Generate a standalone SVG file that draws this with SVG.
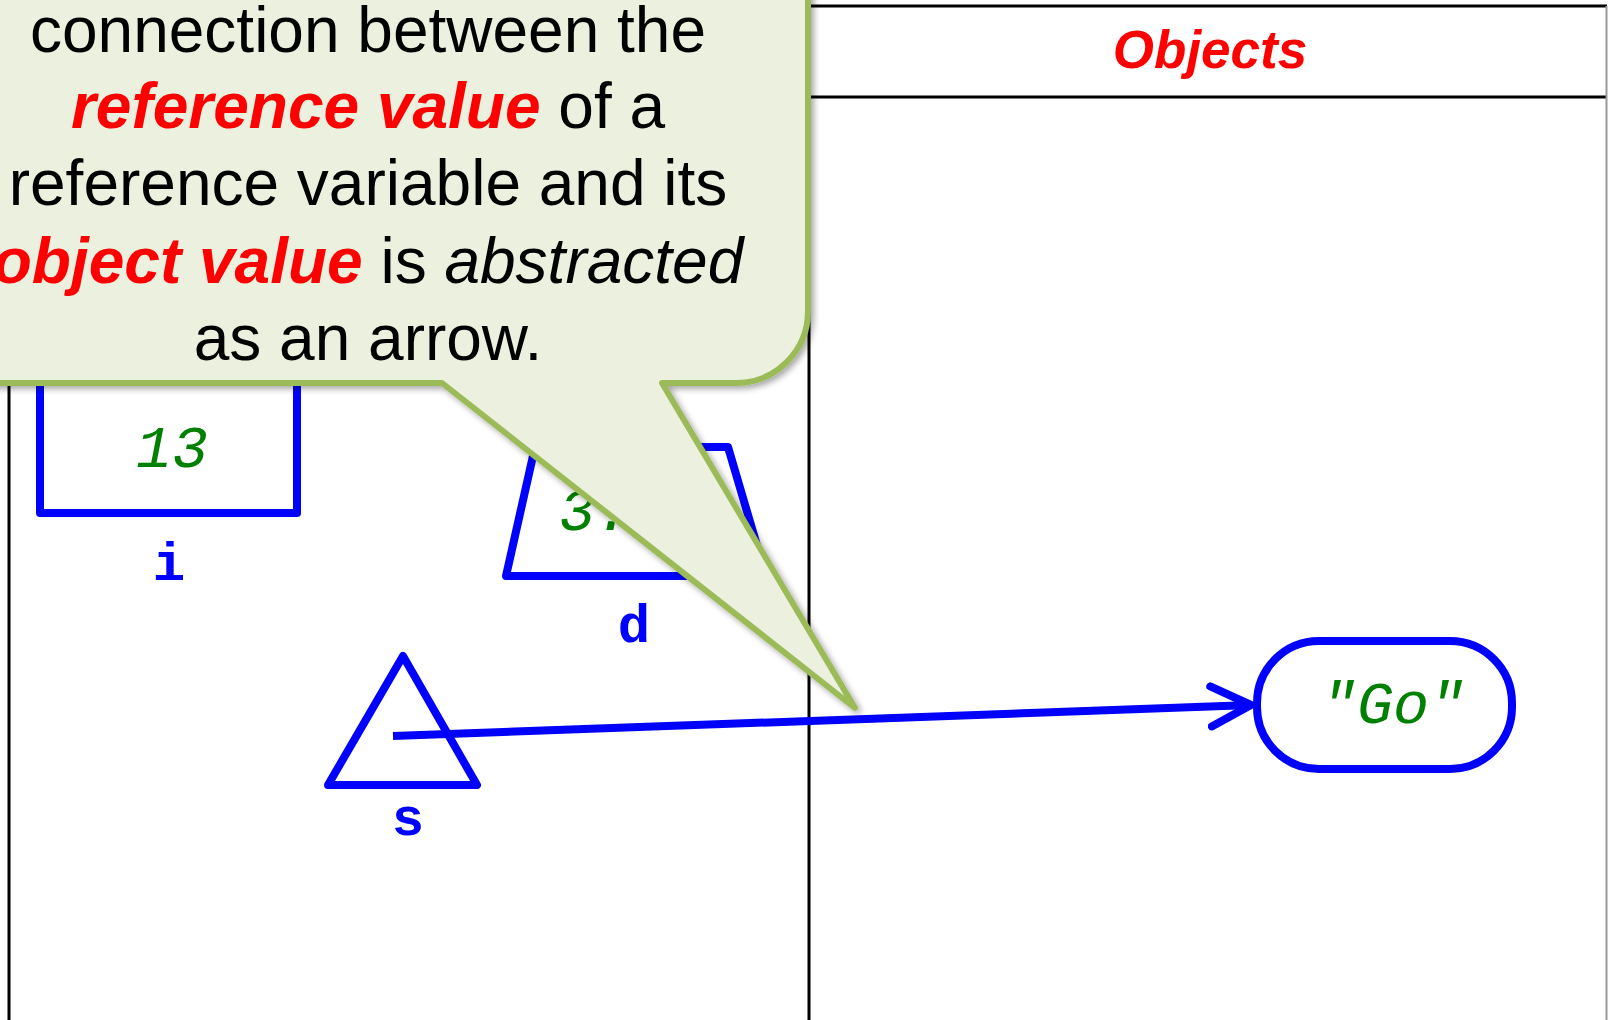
<svg xmlns="http://www.w3.org/2000/svg" width="1608" height="1020" viewBox="0 0 1608 1020">
  <style>
    .frame { fill: none; stroke: #000; stroke-width: 3; }
    .shape { fill: none; stroke: #0000FF; stroke-width: 8; stroke-linejoin: round; }
    .val { font-family: "Liberation Mono", "Courier New", monospace; font-style: italic; fill: #008000; font-size: 60px; }
    .lbl { font-family: "Liberation Mono", "Courier New", monospace; font-weight: bold; fill: #0000FF; font-size: 54px; text-anchor: middle; }
    .note { font-family: "Liberation Sans", Arial, sans-serif; font-size: 64px; fill: #000; text-anchor: middle; }
    .hl { fill: #FF0000; font-weight: bold; font-style: italic; }
    .head { font-family: "Liberation Sans", Arial, sans-serif; font-size: 53px; font-weight: bold; font-style: italic; fill: #FF0000; text-anchor: middle; }
  </style>
  <defs>
    <filter id="shadow" x="-10%" y="-10%" width="130%" height="130%">
      <feDropShadow dx="3" dy="3" stdDeviation="3" flood-color="#000" flood-opacity="0.35"/>
    </filter>
    <marker id="openArrow" markerUnits="userSpaceOnUse" markerWidth="60" markerHeight="60" refX="44" refY="24" orient="auto">
      <path d="M4,4 L44,24 L4,44" fill="none" stroke="#0000FF" stroke-width="8" stroke-linecap="round" stroke-linejoin="round"/>
    </marker>
  </defs>
  <rect width="1608" height="1020" fill="#FFFFFF"/>

  <g id="panels">
    <line class="frame" x1="9" y1="6" x2="9" y2="1020"/>
    <line class="frame" x1="809" y1="6" x2="809" y2="1020"/>
    <line class="frame" x1="9" y1="6" x2="1607" y2="6"/>
    <line class="frame" x1="809" y1="97" x2="1607" y2="97"/>
    <line x1="1606.5" y1="6" x2="1606.5" y2="1020" stroke="#999" stroke-width="2"/>
    <text class="head" x="1210" y="68">Objects</text>
  </g>

  <g id="var-i">
    <rect class="shape" x="40" y="330" width="257" height="183"/>
    <text class="val" x="172" y="467" text-anchor="middle">13</text>
    <text class="lbl" x="169" y="580">i</text>
  </g>

  <g id="var-d">
    <polygon class="shape" points="535,447 728,447 766,576 506,576"/>
    <text class="val" x="559" y="530">3.</text>
    <text class="lbl" x="634" y="642">d</text>
  </g>

  <g id="var-s">
    <polygon class="shape" points="403,656 477,785 328,785"/>
    <text class="lbl" x="408" y="835">s</text>
  </g>

  <g id="obj-go">
    <rect class="shape" x="1257" y="641" width="255" height="128" rx="62" ry="62"/>
    <text class="val" x="1393" y="723" text-anchor="middle">"Go"</text>
  </g>

  <g id="connectors">
    <line x1="393" y1="736" x2="1251" y2="705" stroke="#0000FF" stroke-width="8" marker-end="url(#openArrow)"/>
  </g>

  <g id="callout">
    <path d="M -20,-20 H 808 V 311 A 72 72 0 0 1 736,383 H 662 L 855,708 L 442,383 H -20 Z" fill="#EBF1DE" stroke="#9BBB59" stroke-width="6" stroke-linejoin="round" filter="url(#shadow)"/>
    <text class="note" x="368" y="52">connection between the</text>
    <text class="note" x="368" y="128"><tspan class="hl">reference value</tspan> of a</text>
    <text class="note" x="368" y="205">reference variable and its</text>
    <text class="note" x="368" y="283"><tspan class="hl">object value</tspan> is <tspan font-style="italic">abstracted</tspan></text>
    <text class="note" x="368" y="360">as an arrow.</text>
  </g>
</svg>
